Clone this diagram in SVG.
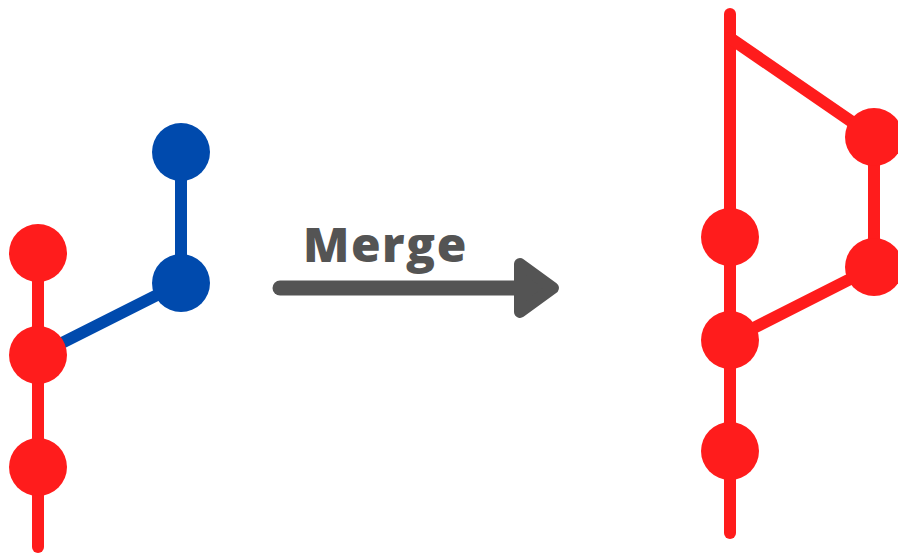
<svg xmlns="http://www.w3.org/2000/svg" width="898" height="554" viewBox="0 0 898 554">
<style>
.red{stroke:#FF1C1C;stroke-width:12;stroke-linecap:round;fill:none}
.blue{stroke:#004AAD;stroke-width:12;stroke-linecap:round;fill:none}
.rn{fill:#FF1C1C}
.bn{fill:#004AAD}
.arrow{stroke:#545454;stroke-width:15;stroke-linecap:round;stroke-linejoin:round;fill:none}
.lbl{font-family:"Open Sans","Liberation Sans",sans-serif;font-weight:800;font-size:48px;letter-spacing:1.5px;fill:#545454}
</style>
<rect width="898" height="554" fill="#fff"/>
<g id="connectors">
<line class="red" x1="38" y1="253" x2="38" y2="547"/>
<line class="blue" x1="181" y1="152" x2="181" y2="283"/>
<line class="blue" x1="38" y1="355" x2="181" y2="283"/>
<line class="red" x1="730" y1="14" x2="730" y2="533"/>
<line class="red" x1="730" y1="38" x2="874" y2="137"/>
<line class="red" x1="874" y1="137" x2="874" y2="267"/>
<line class="red" x1="730" y1="340" x2="874" y2="267"/>
</g>
<g id="left-r1"><circle class="rn" cx="38" cy="253" r="29"/></g>
<g id="left-r2"><circle class="rn" cx="38" cy="355" r="29"/></g>
<g id="left-r3"><circle class="rn" cx="38" cy="467" r="29"/></g>
<g id="left-b1"><circle class="bn" cx="181" cy="152" r="29"/></g>
<g id="left-b2"><circle class="bn" cx="181" cy="283" r="29"/></g>
<g id="right-r1"><circle class="rn" cx="730" cy="237" r="29"/></g>
<g id="right-r2"><circle class="rn" cx="730" cy="340" r="29"/></g>
<g id="right-r3"><circle class="rn" cx="730" cy="451" r="29"/></g>
<g id="right-r4"><circle class="rn" cx="874" cy="137" r="29"/></g>
<g id="right-r5"><circle class="rn" cx="874" cy="267" r="29"/></g>
<g id="merge-arrow">
<line class="arrow" x1="280" y1="288" x2="535" y2="288"/>
<polygon points="520,264 553,288 520,312" fill="#545454" stroke="#545454" stroke-width="12" stroke-linejoin="round"/>
<text class="lbl" x="303" y="262">Merge</text>
</g>
</svg>
